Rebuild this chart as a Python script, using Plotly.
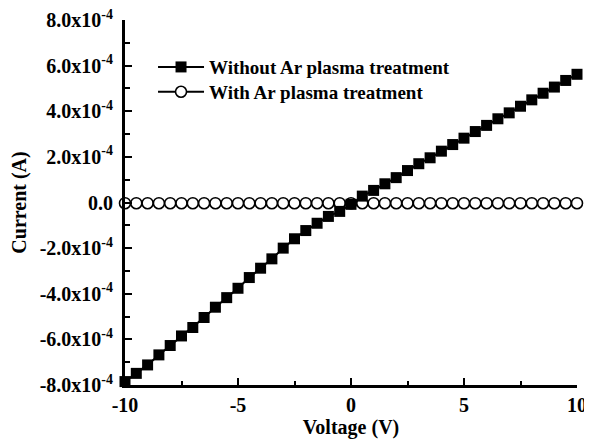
import plotly.graph_objects as go

voltage = [-10, -9.5, -9, -8.5, -8, -7.5, -7, -6.5, -6, -5.5, -5, -4.5, -4, -3.5, -3,
           -2.5, -2, -1.5, -1, -0.5, 0, 0.5, 1, 1.5, 2, 2.5, 3, 3.5, 4, 4.5, 5,
           5.5, 6, 6.5, 7, 7.5, 8, 8.5, 9, 9.5, 10]

without_ar = [-7.85, -7.49, -7.12, -6.68, -6.27, -5.85, -5.48, -5.04, -4.59, -4.17, -3.76,
              -3.29, -2.88, -2.47, -2.00, -1.59, -1.23, -0.91, -0.61, -0.39, -0.08,
              0.28, 0.53, 0.82, 1.09, 1.40, 1.70, 1.96, 2.25, 2.54, 2.82,
              3.11, 3.38, 3.67, 3.93, 4.22, 4.50, 4.79, 5.06, 5.35, 5.62]
without_ar = [v * 1e-4 for v in without_ar]

with_ar = [-0.03, -0.03, -0.03, -0.03, -0.03, -0.03, -0.03, -0.03, -0.03, -0.03, -0.03,
           -0.03, -0.03, -0.03, -0.03, -0.03, -0.03, -0.03, -0.03, -0.03, -0.03,
           -0.03, -0.03, -0.03, -0.03, -0.03, -0.03, -0.03, -0.03, -0.03, -0.03,
           -0.03, -0.03, -0.03, -0.03, -0.03, -0.03, -0.03, -0.03, -0.03, -0.03]
with_ar = [v * 1e-4 for v in with_ar]

y_tickvals = [8e-4, 6e-4, 4e-4, 2e-4, 0, -2e-4, -4e-4, -6e-4, -8e-4]
y_ticktext = ["8.0x10<sup>-4</sup>", "6.0x10<sup>-4</sup>", "4.0x10<sup>-4</sup>",
              "2.0x10<sup>-4</sup>", "0.0", "-2.0x10<sup>-4</sup>",
              "-4.0x10<sup>-4</sup>", "-6.0x10<sup>-4</sup>", "-8.0x10<sup>-4</sup>"]
x_tickvals = [-10, -5, 0, 5, 10]

font_family = "Liberation Serif"

fig = go.Figure()
fig.add_trace(go.Scatter(
    x=voltage, y=with_ar, mode="lines+markers", name="<b>With Ar plasma treatment</b>",
    line=dict(color="black", width=2),
    marker=dict(symbol="circle", size=11, color="white", line=dict(color="black", width=1.6)),
    cliponaxis=False, legend="legend2",
))
fig.add_trace(go.Scatter(
    x=voltage, y=without_ar, mode="lines+markers", name="<b>Without Ar plasma treatment</b>",
    line=dict(color="black", width=2),
    marker=dict(symbol="square", size=11, color="black", line=dict(width=0)),
    cliponaxis=False, legend="legend",
))

legend_common = dict(xanchor="left", yanchor="middle", bgcolor="rgba(0,0,0,0)",
                     font=dict(family=font_family, size=19, color="black"), itemwidth=46)

fig.update_layout(
    width=584, height=433,
    margin=dict(l=117, r=15, t=12, b=56),
    paper_bgcolor="white", plot_bgcolor="white",
    font=dict(family=font_family, color="black", size=19),
    showlegend=True,
    legend=dict(x=0.062, y=0.871, **legend_common),
    legend2=dict(x=0.062, y=0.803, **legend_common),
    xaxis=dict(
        range=[-10, 10], tickvals=x_tickvals, ticktext=[str(v) for v in x_tickvals],
        showline=True, linecolor="black", linewidth=3, mirror=False,
        ticks="inside", ticklen=7, tickwidth=2, tickcolor="black",
        showgrid=False, zeroline=False, ticklabeloverflow="allow", automargin=False,
        tickfont=dict(family=font_family, size=20, color="black", weight="bold"),
        minor=dict(dtick=2.5, tick0=-10, ticks="inside", ticklen=4, tickwidth=2, tickcolor="black"),
        title=dict(text="<b>Voltage (V)</b>", font=dict(family=font_family, size=20, color="black"), standoff=2),
    ),
    yaxis=dict(
        range=[-8e-4, 8e-4], tickvals=y_tickvals, ticktext=y_ticktext,
        showline=True, linecolor="black", linewidth=3, mirror=False,
        ticks="inside", ticklen=7, tickwidth=2, tickcolor="black",
        ticklabelstandoff=5, ticklabeloverflow="allow", automargin=False,
        showgrid=False, zeroline=False,
        tickfont=dict(family=font_family, size=20, color="black", weight="bold"),
        minor=dict(dtick=1e-4, tick0=-8e-4, ticks="inside", ticklen=5, tickwidth=2, tickcolor="black"),
        title=dict(text="<b>Current (A)</b>", font=dict(family=font_family, size=20, color="black"), standoff=9),
    ),
)

fig.write_html("out.html")
